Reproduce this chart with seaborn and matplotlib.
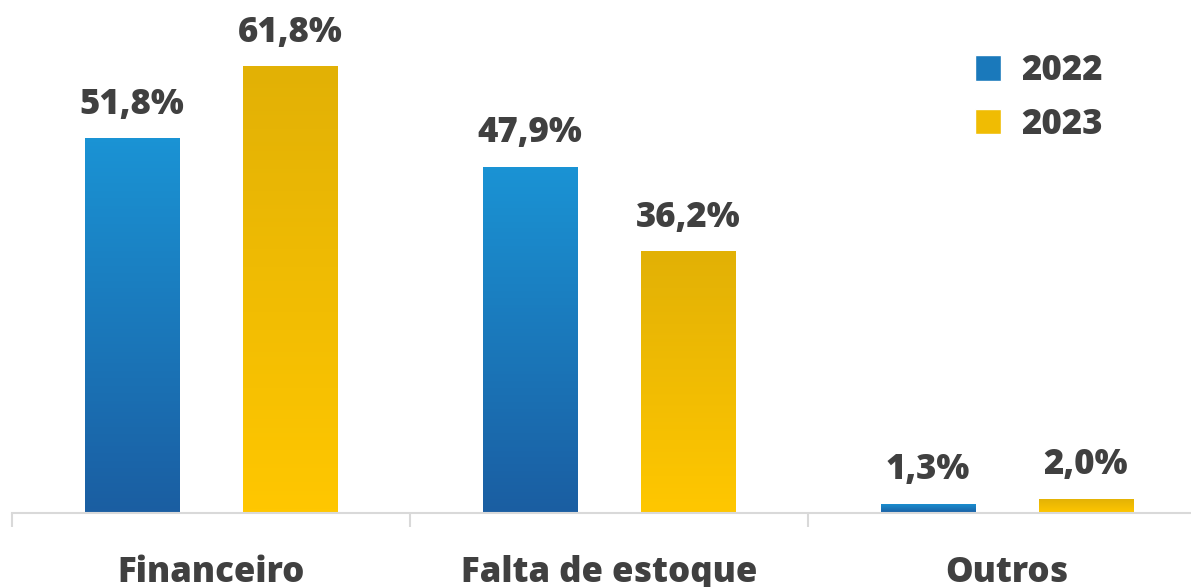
import numpy as np
import pandas as pd
import matplotlib
matplotlib.use("Agg")
import matplotlib.pyplot as plt
import seaborn as sns
from matplotlib.patches import Patch
from matplotlib.colors import LinearSegmentedColormap

# -----------------------------
# Data
# -----------------------------
categories = ["Financeiro", "Falta de estoque", "Outros"]
anos = ["2022", "2023"]
valores_2022 = [51.8, 47.9, 1.3]
valores_2023 = [61.8, 36.2, 2.0]
rotulos_2022 = ["51,8%", "47,9%", "1,3%"]
rotulos_2023 = ["61,8%", "36,2%", "2,0%"]

df = pd.DataFrame({
    "categoria": categories * 2,
    "ano": [anos[0]] * 3 + [anos[1]] * 3,
    "valor": valores_2022 + valores_2023,
})

cores = {"2022": "#1a78c2", "2023": "#f5c000"}
grad = {
    "2022": LinearSegmentedColormap.from_list("b", ["#1b5ea2", "#1a93d4"]),
    "2023": LinearSegmentedColormap.from_list("y", ["#ffc700", "#e2b106"]),
}
texto = "#404040"
FS = 25

sns.set_style("white")
plt.rcParams["font.family"] = ["Open Sans", "DejaVu Sans"]

fig = plt.figure(figsize=(11.91, 5.87), dpi=100)
# axes runs a bit past the right edge, like the original
ax = fig.add_axes([12 / 1191, 74 / 587, 1194 / 1191, 513 / 587])

sns.barplot(data=df, x="categoria", y="valor", hue="ano", palette=cores,
            width=0.794, gap=0.405, ax=ax, legend=False, errorbar=None)

# gradient fill on each bar
for cont, ano, rotulos in zip(ax.containers, anos, [rotulos_2022, rotulos_2023]):
    for bar, lab in zip(cont.patches, rotulos):
        x0, y0 = bar.get_x(), bar.get_y()
        w, h = bar.get_width(), bar.get_height()
        g = np.linspace(0, 1, 100).reshape(-1, 1)
        im = ax.imshow(g, cmap=grad[ano], extent=[x0, x0 + w, y0, y0 + h],
                       origin="lower", aspect="auto", zorder=bar.get_zorder())
        im.set_clip_path(bar)
        bar.set_facecolor("none")
        bar.set_edgecolor("none")
        ax.annotate(lab, (x0 + w / 2, y0 + h), xytext=(0, 11), textcoords="offset points",
                    ha="center", va="bottom", fontsize=FS, fontweight="heavy", color=texto)

ax.set_xlim(-0.5, 2.5)
ax.set_ylim(0, 70.93)

# axis styling
for s in ["top", "right", "left"]:
    ax.spines[s].set_visible(False)
ax.spines["bottom"].set_color("#d9d9d9")
ax.spines["bottom"].set_linewidth(1.5)
ax.set_yticks([])
ax.set_xlabel("")
ax.set_ylabel("")
ax.set_xticks(range(len(categories)))
ax.set_xticklabels(categories, fontsize=FS, fontweight="heavy", color=texto)
ax.set_xticks([-0.5, 0.5, 1.5, 2.5], minor=True)
ax.tick_params(axis="x", which="minor", bottom=True, length=10, width=1.5, color="#d9d9d9")
ax.tick_params(axis="x", which="major", bottom=True, length=0, pad=30)

# legend
handles = [Patch(facecolor=grad[a](0.5), label=a) for a in anos]
leg = ax.legend(handles=handles, loc="upper left", bbox_to_anchor=(944 / 1191, 1 - 22 / 587),
                bbox_transform=fig.transFigure,
                frameon=False, fontsize=FS, handlelength=0.75, handleheight=0.75,
                handletextpad=0.58, labelspacing=0.5)
for t in leg.get_texts():
    t.set_fontweight("heavy")
    t.set_color(texto)

fig.savefig("out.png", dpi=100)
